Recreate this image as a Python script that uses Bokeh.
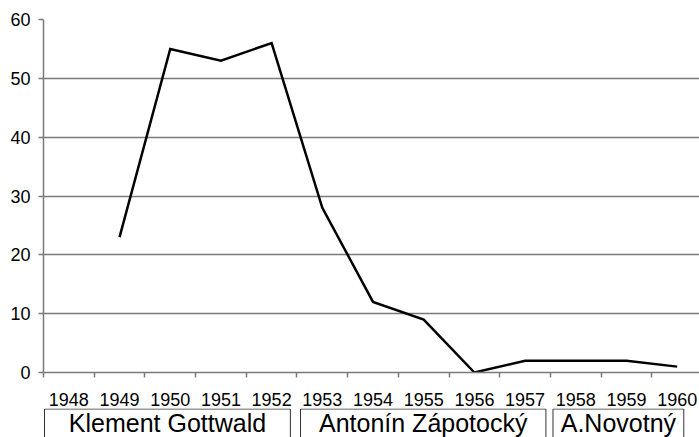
import numpy as np
from bokeh.plotting import figure
from bokeh.layouts import column
from bokeh.models import Range1d, FixedTicker, ColumnDataSource
from bokeh.core.properties import value
from bokeh.embed import file_html
from bokeh.resources import INLINE

# ---- data ----
years = [1948, 1949, 1950, 1951, 1952, 1953, 1954, 1955, 1956, 1957, 1958, 1959, 1960]
year_labels = ["1948", "1949", "1950", "1951", "1952", "1953", "1954", "1955",
               "1956", "1957", "1958", "1959", "1960"]
counts = [None, 23, 55, 53, 56, 28, 12, 9, 0, 2, 2, 2, 1]
y_ticks = [0, 10, 20, 30, 40, 50, 60]

presidents = ["Klement Gottwald", "Antonín Zápotocký", "A.Novotný"]
term_start = [1947.52, 1952.57, 1957.55]
term_end = [1952.37, 1957.41, 1960.13]

FONT = "Liberation Sans"

vals = np.array([np.nan if v is None else v for v in counts], dtype=float)
src = ColumnDataSource(dict(year=years, count=vals))

x_range = Range1d(years[0] - 0.5, 1960.44)

p = figure(width=699, height=408, x_range=x_range, y_range=Range1d(0, 60),
           output_backend="svg", toolbar_location=None,
           min_border_left=43, min_border_right=0, min_border_top=19, min_border_bottom=36)
p.outline_line_color = None
p.background_fill_color = "white"
p.border_fill_color = "white"

p.xgrid.visible = False
p.ygrid.ticker = FixedTicker(ticks=y_ticks)
p.ygrid.grid_line_color = "#7a7a7a"
p.ygrid.grid_line_width = 1.5

# y axis
p.yaxis.ticker = FixedTicker(ticks=y_ticks)
p.yaxis.axis_line_color = "#7a7a7a"
p.yaxis.axis_line_width = 1.5
p.yaxis.major_tick_line_color = "#7a7a7a"
p.yaxis.major_tick_line_width = 1.5
p.yaxis.major_tick_out = 5
p.yaxis.major_tick_in = 0
p.yaxis.minor_tick_line_color = None
p.yaxis.major_label_standoff = 8
p.yaxis.major_label_text_font = FONT
p.yaxis.major_label_text_font_size = "18px"
p.yaxis.major_label_text_color = "black"

# x axis: labels at year centres, ticks at boundaries
boundaries = [y - 0.5 for y in years] + [years[-1] + 0.5]
p.xaxis.ticker = FixedTicker(ticks=years, minor_ticks=boundaries)
p.xaxis.major_label_overrides = {y: lab for y, lab in zip(years, year_labels)}
p.xaxis.axis_line_color = "#7a7a7a"
p.xaxis.axis_line_width = 1.5
p.xaxis.major_tick_line_color = None
p.xaxis.major_tick_out = 0
p.xaxis.major_tick_in = 0
p.xaxis.minor_tick_line_color = "#7a7a7a"
p.xaxis.minor_tick_line_width = 1.5
p.xaxis.minor_tick_out = 5
p.xaxis.minor_tick_in = 0
p.xaxis.major_label_standoff = 15
p.xaxis.major_label_text_font = FONT
p.xaxis.major_label_text_font_size = "18px"
p.xaxis.major_label_text_color = "black"

p.line(x="year", y="count", source=src, line_color="black", line_width=2.5,
       line_join="miter")

# president boxes
p2 = figure(width=699, height=29, x_range=x_range, y_range=Range1d(0, 29),
            output_backend="svg", toolbar_location=None,
            x_axis_type=None, y_axis_type=None,
            min_border_left=43, min_border_right=0, min_border_top=0, min_border_bottom=0)
p2.outline_line_color = None
p2.background_fill_color = "white"
p2.border_fill_color = "white"

centers = [(a + b) / 2 for a, b in zip(term_start, term_end)]
bsrc = ColumnDataSource(dict(left=term_start, right=term_end, mid=centers, name=presidents))
p2.quad(left="left", right="right", top=28.5, bottom=-5, source=bsrc,
        fill_color=None, line_color="#333333", line_width=1)
p2.text(x="mid", y=15, text="name", source=bsrc, text_font=value(FONT),
        text_font_size="25px", text_align="center", text_baseline="middle",
        text_color="black")

layout = column(p, p2, spacing=0)
open("out.html", "w").write(file_html(layout, INLINE))
